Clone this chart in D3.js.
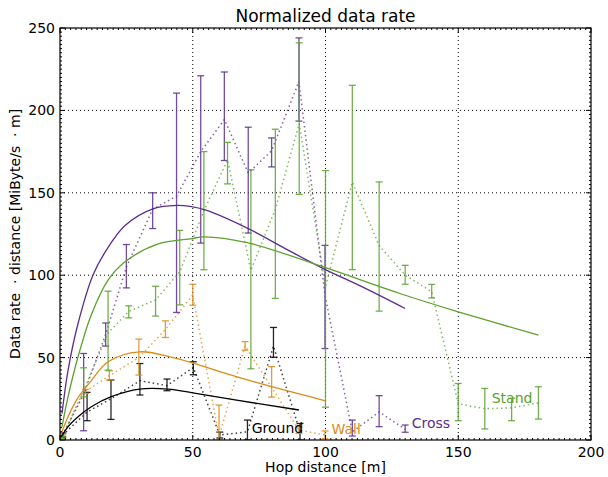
<!DOCTYPE html>
<html><head><meta charset="utf-8">
<script src="https://cdn.jsdelivr.net/npm/d3@7"></script>
<style>body{margin:0;background:#fff}svg{display:block}text{font-family:"DejaVu Sans",sans-serif}</style>
</head><body><svg id="c" width="608" height="477"></svg>
<script>
// ---------- data ----------
const xTicks = [0, 50, 100, 150, 200];
const yTicks = [0, 50, 100, 150, 200, 250];

const groundX    = [1, 10.2, 19.2, 30.1, 40.3, 50.2, 60.2, 70.6, 80.4, 90.4];
const groundMean = [3, 17, 25, 36, 33, 44, 3, 5, 57, 5];
const groundLo   = [2, 11.7, 12.5, 27.3, 29.9, 39.6, 1.2, 0, 50.2, 0];
const groundHi   = [4, 28.9, 36.4, 46.4, 37, 47.5, 4.8, 12.1, 68.3, 10];

const wallX    = [1, 9.6, 18.6, 29.7, 39.7, 50, 59.9, 69.7, 79.7, 90, 99.8];
const wallMean = [3, 29.5, 39, 50, 67, 88, 2, 57, 32, 6, 3];
const wallLo   = [2, 28.3, 36.4, 39.4, 62.2, 81.8, 0, 54.5, 26, 4, 0.8];
const wallHi   = [4, 30.7, 42, 61.2, 72.3, 94.5, 21.2, 59.7, 44.5, 8, 5.5];

const crossX    = [1, 8.9, 17.2, 25, 34.9, 43.9, 53, 61.9, 70.9, 79.7, 90, 99.8, 110.1, 120.2, 130];
const crossMean = [3, 28, 64, 105, 140, 148, 175, 194.5, 162, 175.5, 217.5, 88, 5, 17, 6.5];
const crossLo   = [1.5, 5.6, 57, 92.3, 128.3, 77.4, 119.5, 169.6, 125.6, 165.7, 193.5, 55.5, 2.4, 8.1, 4.7];
const crossHi   = [4.5, 52.5, 71, 118.6, 150, 210.5, 221, 223.3, 189.8, 183.3, 244, 118.1, 12.1, 26.9, 9.1];

const standX    = [1, 8.9, 18.1, 25.9, 36, 45.1, 54.2, 63.1, 71.9, 81.1, 90.1, 100, 110.1, 120.2, 130, 140, 150, 160, 170.1, 180.2];
const standMean = [2, 30, 65, 78, 85, 102, 139, 170, 103, 140, 192, 93, 156.5, 118, 100, 90, 22, 19, 19.5, 22.5];
const standLo   = [1, 26.2, 42.4, 74.1, 75.2, 82, 103.3, 155.4, 43.2, 85.9, 149, 19.9, 103.4, 78.2, 94.5, 86.2, 11.7, 6.7, 11.7, 12.7];
const standHi   = [3, 43.8, 90.3, 81.4, 93.3, 127.2, 175, 180.6, 164, 188.6, 241, 163.5, 215.2, 156.6, 106, 94.4, 34.3, 31.3, 25.3, 32.3];

// fitted curves
const groundFitX = [0.5, 3, 6.8, 11.8, 19.3, 30, 40.7, 50, 66.5, 90];
const groundFitY = [2, 8, 14.1, 20.2, 26.3, 30.9, 30.9, 28.6, 24.2, 18.2];
const wallFitX = [0.5, 3, 6.5, 11.8, 18.1, 30, 41.4, 49.6, 58.4, 75.3, 100];
const wallFitY = [4, 14, 25, 36, 47.5, 53.5, 50.5, 47, 42.4, 34.3, 23.8];
const crossFitX = [0.75, 3, 6.8, 12.4, 17, 24.4, 35.2, 44, 49, 55, 70.9, 85, 99.2, 115, 130];
const crossFitY = [16, 42, 70.7, 100, 114, 130, 140.4, 142.4, 141.8, 139.5, 128.3, 116, 104, 92, 79.8];
const standFitX = [0.75, 3, 6.8, 11.8, 18.1, 24.4, 37, 49.6, 54, 70.9, 99.2, 128, 150, 180.2];
const standFitY = [8, 26, 50.5, 76, 97, 108, 119, 122.2, 123.3, 119.6, 105, 88.9, 77.8, 63.6];

const seriesNames = ["Ground", "Wall", "Cross", "Stand"];
const seriesColors = ["#000000", "#d98c1a", "#5b2d91", "#5ba22e"];

// ---------- layout ----------
const svg = d3.select("#c");
const L = 60, R = 591, T = 28, B = 440;
const x = d3.scaleLinear().domain([0, 200]).range([L, R]);
const y = d3.scaleLinear().domain([0, 250]).range([B, T]);

const series = [
  {name: seriesNames[0], color: seriesColors[0], X: groundX, M: groundMean, lo: groundLo, hi: groundHi, fx: groundFitX, fy: groundFitY, lab: [72.2, 4.2]},
  {name: seriesNames[1], color: seriesColors[1], X: wallX, M: wallMean, lo: wallLo, hi: wallHi, fx: wallFitX, fy: wallFitY, lab: [102.3, 3.6]},
  {name: seriesNames[2], color: seriesColors[2], X: crossX, M: crossMean, lo: crossLo, hi: crossHi, fx: crossFitX, fy: crossFitY, lab: [132.5, 7.1]},
  {name: seriesNames[3], color: seriesColors[3], X: standX, M: standMean, lo: standLo, hi: standHi, fx: standFitX, fy: standFitY, lab: [162.6, 22.2]}
];

// grid
const grid = svg.append("g");
xTicks.slice(1, -1).forEach(t => grid.append("line").attr("x1", x(t)).attr("x2", x(t)).attr("y1", T).attr("y2", B)
  .attr("stroke", "#000").attr("stroke-width", 1).attr("stroke-dasharray", "1,3"));
yTicks.slice(1, -1).forEach(t => grid.append("line").attr("x1", L).attr("x2", R).attr("y1", y(t)).attr("y2", y(t))
  .attr("stroke", "#000").attr("stroke-width", 1).attr("stroke-dasharray", "1,3"));

svg.append("defs").append("clipPath").attr("id", "clp").append("rect")
  .attr("x", L).attr("y", T).attr("width", R - L).attr("height", B - T);
const plot = svg.append("g").attr("clip-path", "url(#clp)");

series.forEach(s => {
  const pts = s.X.map((v, i) => [v, s.M[i]]);
  plot.append("path").datum(pts)
    .attr("d", d3.line().x(d => x(d[0])).y(d => y(d[1])))
    .attr("fill", "none").attr("stroke", s.color).attr("stroke-opacity", 0.75)
    .attr("stroke-width", 1.5).attr("stroke-dasharray", "1.5,3");
  const g = plot.append("g").attr("stroke", s.color).attr("stroke-width", 1.3).attr("stroke-opacity", 0.85);
  s.X.forEach((v, i) => {
    g.append("line").attr("x1", x(v)).attr("x2", x(v)).attr("y1", y(s.lo[i])).attr("y2", y(s.hi[i]));
    [s.lo[i], s.hi[i]].forEach(e => g.append("line").attr("x1", x(v) - 3.5).attr("x2", x(v) + 3.5)
      .attr("y1", y(e)).attr("y2", y(e)));
  });
});
series.forEach(s => {
  const pts = s.fx.map((v, i) => [v, s.fy[i]]);
  plot.append("path").datum(pts)
    .attr("d", d3.line().curve(d3.curveCatmullRom.alpha(0.5)).x(d => x(d[0])).y(d => y(d[1])))
    .attr("fill", "none").attr("stroke", s.color).attr("stroke-width", 1.3);
});
series.forEach(s => {
  svg.append("text").attr("x", x(s.lab[0])).attr("y", y(s.lab[1]))
    .attr("font-size", 14).attr("fill", s.color).text(s.name);
});

// frame + ticks
const ax = svg.append("g").attr("stroke", "#000");
for (let v = 0; v <= 200; v += 2) {
  const major = v % 50 === 0, len = major ? 5 : 2;
  ax.append("line").attr("x1", x(v)).attr("x2", x(v)).attr("y1", B).attr("y2", B - len);
  ax.append("line").attr("x1", x(v)).attr("x2", x(v)).attr("y1", T).attr("y2", T + len);
}
for (let v = 0; v <= 250; v += 2.5) {
  const major = v % 50 === 0, len = major ? 5 : 2;
  ax.append("line").attr("x1", L).attr("x2", L + len).attr("y1", y(v)).attr("y2", y(v));
  ax.append("line").attr("x1", R).attr("x2", R - len).attr("y1", y(v)).attr("y2", y(v));
}
svg.append("rect").attr("x", L).attr("y", T).attr("width", R - L).attr("height", B - T)
  .attr("fill", "none").attr("stroke", "#000").attr("stroke-width", 1.2);

// tick labels
xTicks.forEach(t => svg.append("text").attr("x", x(t)).attr("y", B + 17).attr("text-anchor", "middle")
  .attr("font-size", 14).text(t));
yTicks.forEach(t => svg.append("text").attr("x", L - 5).attr("y", y(t)).attr("dy", "0.36em").attr("text-anchor", "end")
  .attr("font-size", 14).text(t));

// titles
svg.append("text").attr("x", (L + R) / 2).attr("y", 22).attr("text-anchor", "middle").attr("font-size", 17).text("Normalized data rate");
svg.append("text").attr("x", (L + R) / 2).attr("y", 472).attr("text-anchor", "middle").attr("font-size", 14).text("Hop distance [m]");
svg.append("text").attr("transform", `translate(20,${(T + B) / 2}) rotate(-90)`).attr("text-anchor", "middle")
  .attr("font-size", 14).attr("xml:space", "preserve").text("Data rate  · distance [MiByte/s  · m]");
</script></body></html>
